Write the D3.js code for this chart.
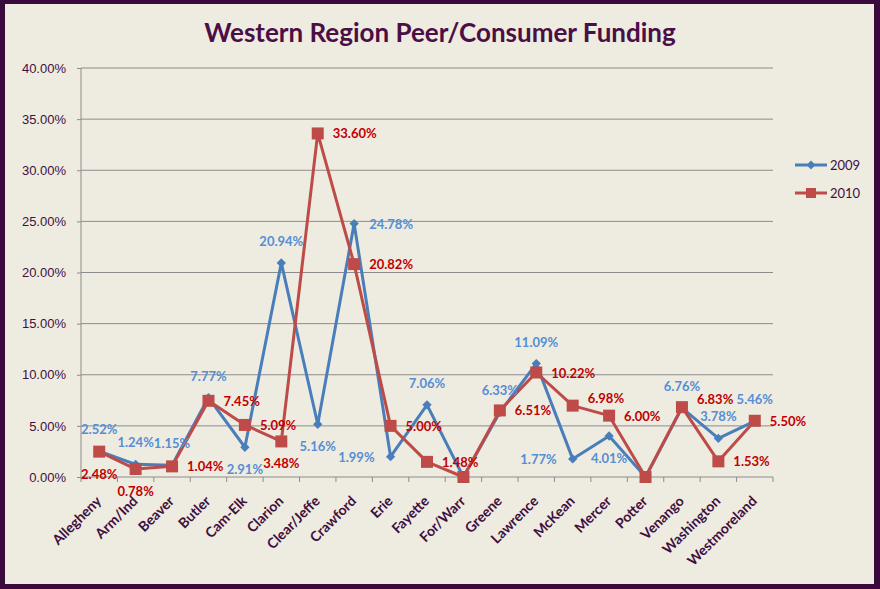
<!DOCTYPE html>
<html lang="en">
<head>
    <meta charset="UTF-8">
    <title>Western Region Peer/Consumer Funding</title>
    <script src="https://d3js.org/d3.v7.min.js"></script>
    <style>
        body {
            margin: 0;
            background: #ffffff;
        }
        svg {
            display: block;
            font-family: Lato, "Open Sans", sans-serif;
        }
        .tick-y text {
            font-size: 13px;
            fill: #3f0f3f;
        }
        .cat-label {
            font-size: 14px;
            font-weight: bold;
            fill: #3f0f3f;
        }
        .val-label {
            font-size: 13px;
            font-weight: bold;
        }
    </style>
</head>
<body>
    <div id="chart"></div>
    <script>
        const categories = ["Allegheny", "Arm/Ind", "Beaver", "Butler", "Cam-Elk", "Clarion", "Clear/Jeffe",
            "Crawford", "Erie", "Fayette", "For/Warr", "Greene", "Lawrence", "McKean", "Mercer", "Potter",
            "Venango", "Washington", "Westmoreland"];
        const values2009 = [2.52, 1.24, 1.15, 7.77, 2.91, 20.94, 5.16, 24.78, 1.99, 7.06, 0, 6.33, 11.09,
            1.77, 4.01, 0, 6.76, 3.78, 5.46];
        const values2010 = [2.48, 0.78, 1.04, 7.45, 5.09, 3.48, 33.60, 20.82, 5.00, 1.48, 0, 6.51, 10.22,
            6.98, 6.00, 0, 6.83, 1.53, 5.50];
        // where each data label sits relative to its point (null = no label)
        const labelPos2009 = ["t", "t", "t", "t", "b", "t", "b", "r", "l", "t", null, "t", "t",
            "l", "b", null, "t", "t", "t"];
        const labelPos2010 = ["b", "b", "r", "r", "r", "b", "r", "r", "r", "r", null, "r", "r",
            "tr", "r", null, "tr", "r", "r"];
        const yTicks = [0, 5, 10, 15, 20, 25, 30, 35, 40];

        const width = 880, height = 589;
        const margin = { left: 81, right: 107, top: 68, bottom: 112 };

        const svg = d3.select("#chart").append("svg")
            .attr("width", width)
            .attr("height", height);

        // background and frame
        svg.append("rect")
            .attr("x", 0).attr("y", 0)
            .attr("width", width).attr("height", height)
            .attr("fill", "#3b0a3c");
        svg.append("rect")
            .attr("x", 5).attr("y", 4)
            .attr("width", 869).attr("height", 580)
            .attr("fill", "#eeebe0");

        svg.append("text")
            .attr("x", 440)
            .attr("y", 42)
            .attr("text-anchor", "middle")
            .attr("font-size", "26px")
            .attr("font-weight", "bold")
            .attr("fill", "#4b0f45")
            .text("Western Region Peer/Consumer Funding");

        const x = d3.scaleBand()
            .domain(categories)
            .range([margin.left, width - margin.right]);

        const y = d3.scaleLinear()
            .domain([0, 40])
            .range([height - margin.bottom, margin.top]);

        // gridlines
        svg.append("g")
            .selectAll("line")
            .data(yTicks.slice(1))
            .join("line")
            .attr("x1", margin.left)
            .attr("x2", width - margin.right)
            .attr("y1", d => y(d))
            .attr("y2", d => y(d))
            .attr("stroke", "#8c8c8c")
            .attr("stroke-width", 1);

        // y axis
        const yAxis = svg.append("g")
            .attr("class", "tick-y")
            .attr("transform", `translate(${margin.left},0)`)
            .call(d3.axisLeft(y).tickValues(yTicks).tickSize(4).tickPadding(11)
                .tickFormat(d => d.toFixed(2) + "%"));
        yAxis.selectAll("line, path").attr("stroke", "#8c8c8c");
        yAxis.select(".domain").attr("d", `M0,${y(0)}V${y(40)}`);

        // x axis: ticks at category boundaries
        const xAxis = svg.append("g")
            .attr("transform", `translate(0,${y(0)})`);
        xAxis.append("line")
            .attr("x1", margin.left).attr("x2", width - margin.right)
            .attr("stroke", "#8c8c8c");
        xAxis.selectAll(".xt")
            .data(d3.range(categories.length + 1))
            .join("line")
            .attr("class", "xt")
            .attr("x1", i => margin.left + i * x.bandwidth())
            .attr("x2", i => margin.left + i * x.bandwidth())
            .attr("y1", 0).attr("y2", 5)
            .attr("stroke", "#8c8c8c");

        svg.append("g")
            .selectAll("text")
            .data(categories)
            .join("text")
            .attr("class", "cat-label")
            .attr("text-anchor", "end")
            .attr("transform", d => `translate(${x(d) + x.bandwidth() / 2 + 3},${y(0) + 25}) rotate(-45)`)
            .text(d => d);

        const cx = d => x(d) + x.bandwidth() / 2;
        const line = d3.line()
            .x(d => cx(d.cat))
            .y(d => y(d.v));

        const series = [
            { name: "2009", values: values2009, pos: labelPos2009, color: "#4a7ebb", text: "#558ed5", marker: "diamond" },
            { name: "2010", values: values2010, pos: labelPos2010, color: "#be4b48", text: "#c00000", marker: "square" }
        ];

        const markerPath = (type) => type === "diamond"
            ? d3.symbol(d3.symbolDiamond2, 55)()
            : "M-6,-6H6V6H-6Z";

        series.forEach(s => {
            const pts = categories.map((c, i) => ({ cat: c, v: s.values[i], pos: s.pos[i] }));
            svg.append("path")
                .datum(pts)
                .attr("d", line)
                .attr("fill", "none")
                .attr("stroke", s.color)
                .attr("stroke-width", 3)
                .attr("stroke-linejoin", "round");
            svg.append("g")
                .selectAll("path")
                .data(pts)
                .join("path")
                .attr("transform", d => `translate(${cx(d.cat)},${y(d.v)})`)
                .attr("d", markerPath(s.marker))
                .attr("fill", s.color);
        });

        // data labels
        const offsets = {
            t: { dx: 0, dy: -17, anchor: "middle" },
            b: { dx: 0, dy: 27, anchor: "middle" },
            r: { dx: 15, dy: 5, anchor: "start" },
            l: { dx: -16, dy: 5, anchor: "end" },
            tr: { dx: 15, dy: -3, anchor: "start" }
        };
        series.forEach(s => {
            svg.append("g")
                .selectAll("text")
                .data(categories.map((c, i) => ({ cat: c, v: s.values[i], pos: s.pos[i] })).filter(d => d.pos))
                .join("text")
                .attr("class", "val-label")
                .attr("fill", s.text)
                .attr("x", d => cx(d.cat) + offsets[d.pos].dx)
                .attr("y", d => y(d.v) + offsets[d.pos].dy)
                .attr("text-anchor", d => offsets[d.pos].anchor)
                .text(d => d.v.toFixed(2) + "%");
        });

        // legend
        const legend = svg.append("g")
            .attr("transform", "translate(795,165)");
        series.forEach((s, i) => {
            const g = legend.append("g").attr("transform", `translate(0,${i * 28})`);
            g.append("line")
                .attr("x1", 0).attr("x2", 32)
                .attr("stroke", s.color).attr("stroke-width", 3);
            g.append("path")
                .attr("transform", "translate(16,0)")
                .attr("d", s.marker === "diamond" ? d3.symbol(d3.symbolDiamond2, 50)() : "M-5,-5H5V5H-5Z")
                .attr("fill", s.color);
            g.append("text")
                .attr("x", 35).attr("y", 5)
                .attr("font-size", "13px")
                .attr("fill", "#3f0f3f")
                .text(s.name);
        });
    </script>
</body>
</html>
